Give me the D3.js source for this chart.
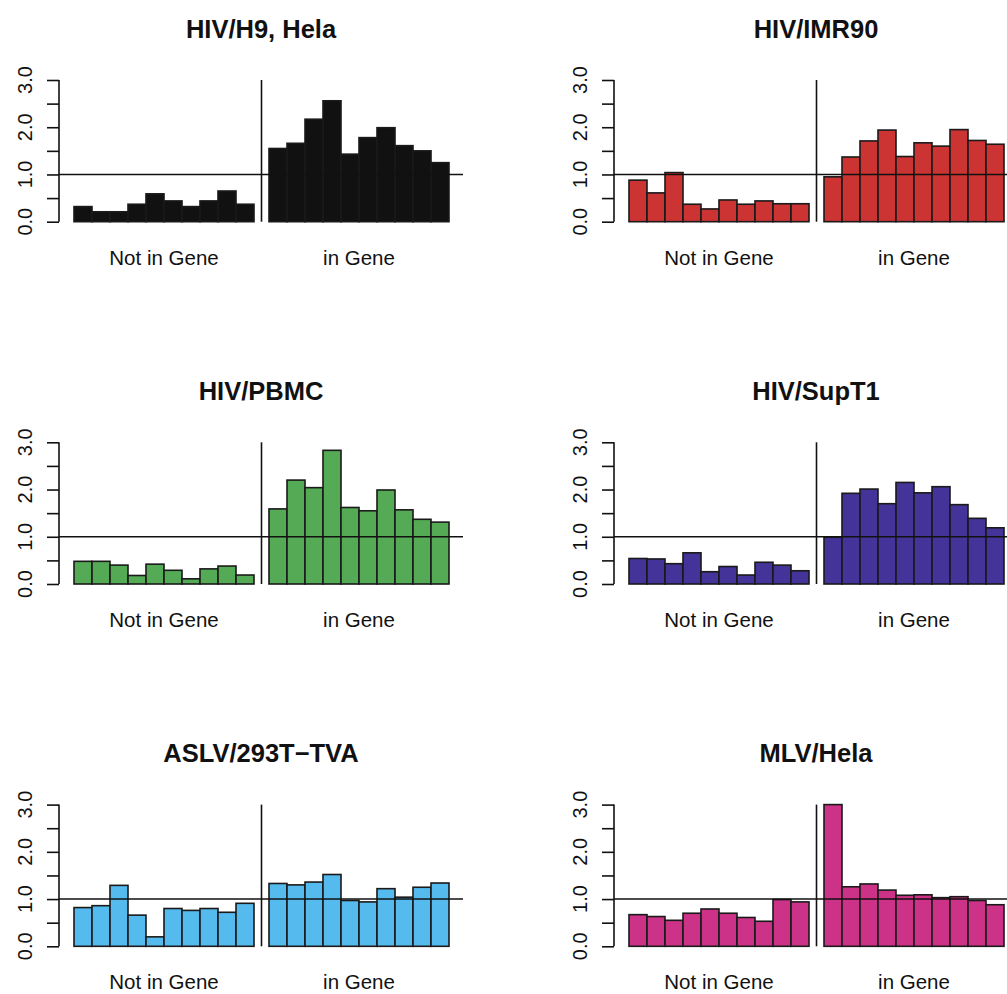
<!DOCTYPE html>
<html>
<head>
<meta charset="utf-8">
<script src="https://cdn.jsdelivr.net/npm/d3@7"></script>
<style>
body { margin: 0; background: #fff; }
text { font-family: "Liberation Sans", Arial, Helvetica, sans-serif; fill: #111; }
</style>
</head>
<body>
<svg id="svg"></svg>
<script>
var width = 1007, height = 994;

// panels, read row by row
var panelTitles = ["HIV/H9, Hela", "HIV/IMR90", "HIV/PBMC", "HIV/SupT1", "ASLV/293T\u2212TVA", "MLV/Hela"];
var panelColors = ["#111111", "#cc3333", "#55aa55", "#443399", "#55bbee", "#cc3388"];
var groupNames = ["Not in Gene", "in Gene"];
var yTicks = [0, 0.5, 1, 1.5, 2, 2.5, 3];
var yLabels = [0, 1, 2, 3];

var notInGene = [
    [0.32, 0.21, 0.21, 0.37, 0.59, 0.44, 0.32, 0.44, 0.65, 0.37],
    [0.88, 0.61, 1.04, 0.37, 0.27, 0.46, 0.37, 0.44, 0.38, 0.38],
    [0.48, 0.48, 0.40, 0.18, 0.42, 0.29, 0.11, 0.32, 0.38, 0.19],
    [0.54, 0.53, 0.43, 0.66, 0.26, 0.37, 0.19, 0.46, 0.40, 0.28],
    [0.82, 0.86, 1.29, 0.66, 0.20, 0.80, 0.76, 0.80, 0.72, 0.91],
    [0.67, 0.63, 0.55, 0.70, 0.79, 0.70, 0.61, 0.53, 0.99, 0.94]
];
var inGene = [
    [1.55, 1.66, 2.17, 2.56, 1.43, 1.78, 1.99, 1.61, 1.50, 1.25],
    [0.95, 1.37, 1.71, 1.94, 1.38, 1.67, 1.60, 1.95, 1.72, 1.64],
    [1.59, 2.20, 2.04, 2.83, 1.62, 1.55, 1.99, 1.57, 1.37, 1.31],
    [0.99, 1.92, 2.01, 1.70, 2.15, 1.93, 2.06, 1.68, 1.39, 1.19],
    [1.33, 1.30, 1.36, 1.52, 0.97, 0.94, 1.22, 1.04, 1.25, 1.34],
    [3.00, 1.26, 1.32, 1.19, 1.08, 1.09, 1.03, 1.05, 0.97, 0.88]
];

var svg = d3.select("#svg").attr("width", width).attr("height", height);

// geometry of one panel (left column, top row)
var plotLeft = 59, plotRight = 463;
var barsLeft = 74, barsRight = 449;
var yTop = 80, yBottom = 221.7;
var colStep = 555, rowStep = 362.3;

var y = d3.scaleLinear().domain([0, 3]).range([yBottom, yTop]);
var xGroup = d3.scaleBand().domain(groupNames).range([barsLeft, barsRight])
        .paddingInner(0.0769).paddingOuter(0);
var xBar = d3.scaleBand().domain(d3.range(10)).range([0, xGroup.bandwidth()]).padding(0);

function drawPanel(g, p)
{
    var color = panelColors[p];
    var groups = [notInGene[p], inGene[p]];

    for (var k=0; k<2; ++k) {
        g.append("g")
            .attr("transform", "translate(" + xGroup(groupNames[k]) + ",0)")
            .selectAll("rect")
            .data(groups[k])
            .enter()
            .append("rect")
            .attr("x", function(d, i) { return xBar(i); })
            .attr("width", xBar.bandwidth())
            .attr("y", function(d) { return y(d); })
            .attr("height", function(d) { return y(0) - y(d); })
            .attr("fill", color)
            .attr("stroke", "#1a1a1a")
            .attr("stroke-width", 1.6);
    }

    // reference line at 1
    g.append("line")
        .attr("x1", plotLeft).attr("x2", plotRight)
        .attr("y1", y(1)).attr("y2", y(1))
        .attr("stroke", "#111").attr("stroke-width", 1.6);

    // divider between groups
    var mid = (xGroup(groupNames[0]) + xGroup.bandwidth() + xGroup(groupNames[1])) / 2;
    g.append("line")
        .attr("x1", mid).attr("x2", mid)
        .attr("y1", y(3)).attr("y2", y(0))
        .attr("stroke", "#111").attr("stroke-width", 1.6);

    // y axis, R style
    var axis = d3.axisLeft(y).tickValues(yTicks).tickSize(12).tickFormat("");
    var ag = g.append("g").attr("transform", "translate(" + plotLeft + ",0)").call(axis);
    ag.select(".domain").attr("stroke", "#111").attr("stroke-width", 1.6)
        .attr("d", "M0," + y(3) + "V" + y(0));
    ag.selectAll(".tick line").attr("stroke", "#111").attr("stroke-width", 1.6);

    g.selectAll(".ylab")
        .data(yLabels)
        .enter()
        .append("text")
        .attr("class", "ylab")
        .attr("transform", function(d) { return "translate(31.5," + y(d) + ") rotate(-90)"; })
        .attr("text-anchor", "middle")
        .style("font-size", "20px")
        .text(function(d) { return d.toFixed(1); });

    // group labels
    g.selectAll(".glab")
        .data(groupNames)
        .enter()
        .append("text")
        .attr("class", "glab")
        .attr("x", function(d) { return xGroup(d) + xGroup.bandwidth() / 2; })
        .attr("y", yBottom + 43)
        .attr("text-anchor", "middle")
        .style("font-size", "20.5px")
        .text(function(d) { return d; });

    // title
    g.append("text")
        .attr("x", (plotLeft + plotRight) / 2)
        .attr("y", yTop - 42.5)
        .attr("text-anchor", "middle")
        .style("font-size", "25.5px")
        .style("font-weight", "bold")
        .text(panelTitles[p]);
}

for (var p=0; p<panelTitles.length; ++p) {
    var col = p % 2, row = Math.floor(p / 2);
    var g = svg.append("g")
        .attr("transform", "translate(" + (col * colStep) + "," + (row * rowStep) + ")");
    drawPanel(g, p);
}
</script>
</body>
</html>
